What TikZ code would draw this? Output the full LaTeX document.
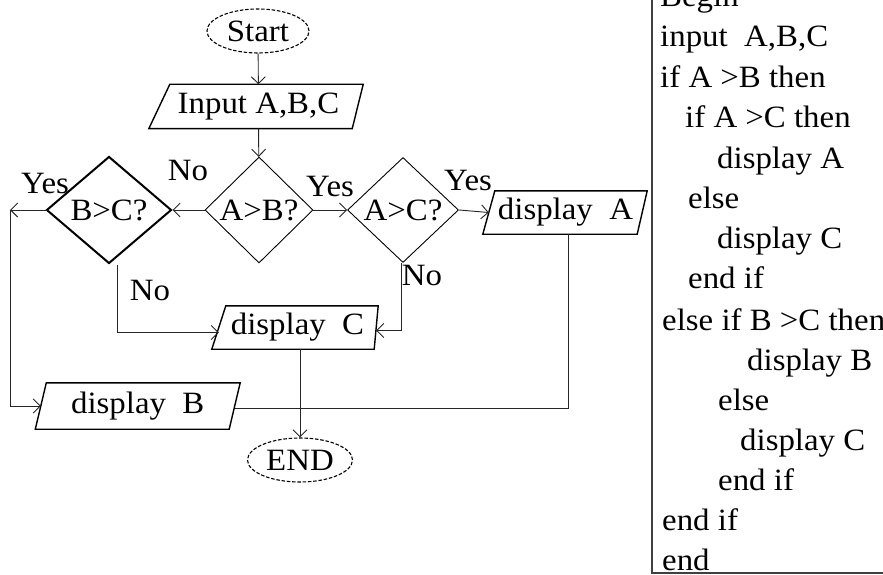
\documentclass[tikz,border=0pt]{standalone}
\usepackage{fontspec}
\setmainfont{Liberation Serif}[FakeStretch=1.06]
\usetikzlibrary{shapes.geometric,arrows.meta}
\newcommand{\drawpara}[3]{\draw[parastyle] ([xshift=#2]#1.north west) -- ([xshift=#3]#1.north east) -- ([xshift=-#3]#1.south east) -- ([xshift=-#2]#1.south west) -- cycle;}
\begin{document}
\begin{tikzpicture}[x=1pt,y=-1pt,
  every node/.style={font=\fontsize{31}{36}\selectfont, inner sep=0pt, text=black},
  term/.style={ellipse, draw, line width=1.1pt, dash pattern=on 3.5pt off 1.8pt, minimum width=#1, minimum height=44pt},
  dec/.style={diamond, draw, line width=0.9pt, minimum width=108pt, minimum height=106pt},
  decthick/.style={dec, line width=2pt},
  iobox/.style={rectangle, minimum height=44pt},
  parastyle/.style={line width=1.4pt, line join=miter},
  conn/.style={line width=0.9pt, draw=black!85},
  lab/.style={},
  code/.style={anchor=base west},
  >={Straight Barb[length=7pt,width=14pt]}
]
\clip (0,0) rectangle (883,575);
\useasboundingbox (0,0) rectangle (883,575);
\fill[white] (0,0) rectangle (883,575);

% flowchart nodes
\node[term=102pt] (start) at (258,31) {Start};
\node[iobox, minimum width=198pt] (inp) at (258.5,106.5) {Input A,B,C};
\node[dec] (ab) at (259,210) {A>B?};
\node[decthick, minimum width=125pt, minimum height=107pt] (bc) at (109,210) {B>C?};
\node[dec, minimum width=111pt, minimum height=105pt] (ac) at (403,210) {A>C?};
\node[iobox, minimum width=153pt, minimum height=43pt] (da) at (565.5,212.5) {display\ \ A};
\node[iobox, minimum width=157pt, minimum height=43pt] (dc) at (297.5,327.5) {display\ \ C};
\node[iobox, minimum width=193.5pt, minimum height=46pt] (db) at (137.75,406) {display\ \ B};
\node[term=105pt] (end) at (300,460) {END};

\drawpara{inp}{10.5}{5.5}
\drawpara{da}{6}{5}
\drawpara{dc}{7}{2}
\drawpara{db}{5.5}{5.5}

\coordinate (ycorner) at (10,210);

% connectors
\draw[conn,->] (start) -- (inp);
\draw[conn,->] (inp) -- (ab);
\draw[conn,->] (ab.west) -- (bc.east);
\draw[conn,->] (ab.east) -- (ac.west);
\draw[conn,->] (ac.east) -- (da.west);
\draw[conn,->] (bc.west) -- (ycorner);
\draw[conn,->] (ycorner) |- (db.west);
\draw[conn,->] ([xshift=8]bc.south) |- ([yshift=-5]dc.west);
\draw[conn,->] ([xshift=-2]ac.south) |- ([yshift=-3]dc.east);
\draw[conn,->] (dc.south -| end.north) -- (end.north);
\draw[conn] ([yshift=-2]db.east) -| ([xshift=2.5]da.south);

% labels
\node[lab] (lno1) at (188,171) {No};
\node[lab] (lyes1) at (330,187) {Yes};
\node[lab] (lyes2) at (45,184) {Yes};
\node[lab] (lyes3) at (468,181) {Yes};
\node[lab] (lno2) at (422,276) {No};
\node[lab] (lno3) at (150,290) {No};

% pseudo code box
\draw[line width=2pt, draw=black!75] (652,-20) rectangle (900,573);
\node[code] (c1) at (660,7) {Begin};
\node[code] (c2) at (660,47) {input\ \ A,B,C};
\node[code] (c3) at (660,88) {if A >B then};
\node[code] (c4) at (685,128) {if A >C then};
\node[code] (c5) at (717,168) {display A};
\node[code] (c6) at (688,208) {else};
\node[code] (c7) at (717,248) {display\ C};
\node[code] (c8) at (688,288) {end if};
\node[code] (c9) at (662,330) {else if B >C then};
\node[code] (c10) at (747,370) {display B};
\node[code] (c11) at (718,410) {else};
\node[code] (c12) at (740,450) {display C};
\node[code] (c13) at (718,490) {end if};
\node[code] (c14) at (662,530) {end if};
\node[code] (c15) at (662,570) {end};
\end{tikzpicture}
\end{document}
